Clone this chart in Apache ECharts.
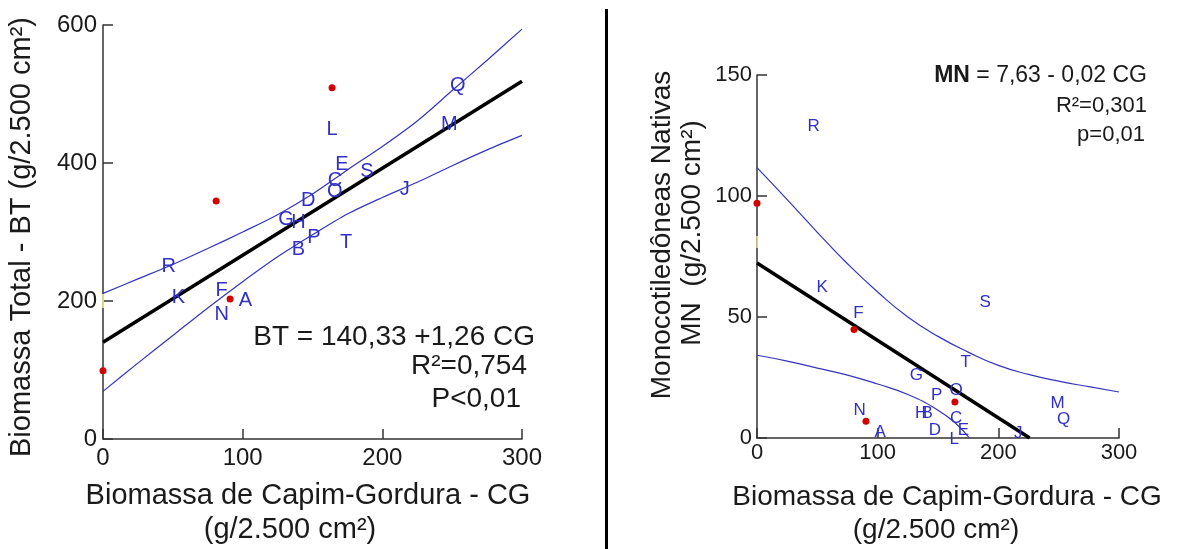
<!DOCTYPE html>
<html>
<head>
<meta charset="utf-8">
<script src="https://cdn.jsdelivr.net/npm/echarts@6/dist/echarts.min.js"></script>
<style>html,body{margin:0;padding:0;background:#fff}#c{width:1192px;height:549px}</style>
</head>
<body>
<div id="c"></div>
<script>
// ---- Left panel: Biomassa Total (BT) vs Capim-Gordura (CG)
var letters = ['A','B','C','D','E','F','G','H','I','J','K','L','M','N','O','P','Q','R','S','T'];
var leftX = [102, 140, 166, 147, 171, 85, 131, 140, 0, 216, 54, 164, 248, 85, 166, 151, 254, 47, 189, 174];
var leftY = [201, 274, 374, 345, 398, 215, 318, 314, 198, 362, 205, 448, 456, 181, 358, 292, 513, 250, 388, 285];
var leftRedX = [164, 81, 91, 0];
var leftRedY = [509, 345, 203, 99];
var leftFitX = [0, 300];
var leftFitY = [140.33, 518.33];
var leftBandX = [0, 25, 50, 75, 100, 125, 150, 175, 200, 225, 250, 275, 300];
var leftUpper = [211, 232, 253, 276, 300, 325, 355, 390, 424, 461, 505, 549, 594];
var leftLower = [69, 110, 150, 190, 228, 264, 296, 326, 350, 372, 396, 419, 440];
var leftXTicks = [0, 100, 200, 300];
var leftYTicks = [0, 200, 400, 600];

// ---- Right panel: Monocotiledôneas Nativas (MN) vs CG
var rightX = [102, 141, 165, 147.5, 171, 84, 132, 136, 0, 216.5, 54, 163.5, 249, 85, 165, 149, 254, 47, 189, 173];
var rightY = [2.5, 10.3, 8, 3, 3.2, 51.7, 26, 10, 80.6, 2, 62.4, -0.7, 14.2, 11.4, 19.7, 17.6, 7.6, 129, 56.2, 31.4];
var rightRedX = [0, 80.4, 164, 90.3];
var rightRedY = [97, 44.8, 14.9, 6.9];
var rightFitX = [0, 226];
var rightFitY = [72.3, 0];
var rightUpperX = [0, 25, 50, 75, 100, 125, 150, 175, 200, 225, 250, 275, 300];
var rightUpperY = [111.7, 98.5, 85, 72, 60.3, 50, 42, 35.5, 30, 26.3, 23.5, 21.2, 19];
var rightLowerX = [0, 25, 50, 75, 100, 125, 150, 165, 176];
var rightLowerY = [34.2, 31.8, 28.9, 26, 22.3, 18, 11.5, 5.9, 0];
var rightXTicks = [0, 100, 200, 300];
var rightYTicks = [0, 50, 100, 150];

var BLUE = '#3030c4';
var BAND = '#3434bc';
var RED = '#d40000';
var YEL = '#e4dc86';
var FONT = '"Liberation Sans", Arial, sans-serif';

function zip(xs, ys) { return xs.map(function (x, i) { return [x, ys[i]]; }); }
function letterData(xs, ys) {
  return letters.map(function (n, i) {
    return { name: n, value: [xs[i], ys[i]], label: { color: n === 'I' ? YEL : BLUE } };
  });
}

function axisCommon(ticks, fs, margin) {
  return {
    type: 'value',
    min: ticks[0], max: ticks[ticks.length - 1], interval: ticks[1] - ticks[0],
    splitLine: { show: false },
    axisLine: { show: true, lineStyle: { color: '#333', width: 1.5 } },
    axisTick: { show: true, inside: true, length: 10, lineStyle: { color: '#333', width: 1.5 } },
    axisLabel: { color: '#1a1a1a', fontSize: fs, fontFamily: FONT, margin: margin }
  };
}

var chart = echarts.init(document.getElementById('c'), null, { renderer: 'canvas' });

var xa0 = axisCommon(leftXTicks, 24, 7); xa0.gridIndex = 0;
var ya0 = axisCommon(leftYTicks, 24, 6); ya0.gridIndex = 0;
var xa1 = axisCommon(rightXTicks, 22, 4); xa1.gridIndex = 1;
var ya1 = axisCommon(rightYTicks, 22, 5); ya1.gridIndex = 1;

var option = {
  animation: false,
  backgroundColor: '#fff',
  grid: [
    { left: 103, top: 25, width: 419, height: 414, containLabel: false },
    { left: 757, top: 75, width: 362, height: 363, containLabel: false }
  ],
  xAxis: [xa0, xa1],
  yAxis: [ya0, ya1],
  series: [
    { type: 'line', xAxisIndex: 0, yAxisIndex: 0, data: zip(leftBandX, leftUpper), smooth: 0.3, showSymbol: false, lineStyle: { color: BAND, width: 1.2 } },
    { type: 'line', xAxisIndex: 0, yAxisIndex: 0, data: zip(leftBandX, leftLower), smooth: 0.3, showSymbol: false, lineStyle: { color: BAND, width: 1.2 } },
    { type: 'line', xAxisIndex: 0, yAxisIndex: 0, data: zip(leftFitX, leftFitY), showSymbol: false, lineStyle: { color: '#000', width: 3.5 } },
    { type: 'scatter', xAxisIndex: 0, yAxisIndex: 0, data: zip(leftRedX, leftRedY), symbol: 'circle', symbolSize: 7, itemStyle: { color: RED, opacity: 1 }, clip: false, z: 5 },
    { type: 'scatter', xAxisIndex: 0, yAxisIndex: 0, data: letterData(leftX, leftY), symbolSize: 2, itemStyle: { color: 'rgba(0,0,0,0)', opacity: 1 }, clip: false,
      label: { show: true, position: 'inside', formatter: '{b}', fontSize: 20, fontFamily: FONT }, z: 4 },
    { type: 'line', xAxisIndex: 1, yAxisIndex: 1, data: zip(rightUpperX, rightUpperY), smooth: true, showSymbol: false, lineStyle: { color: BAND, width: 1.2 } },
    { type: 'line', xAxisIndex: 1, yAxisIndex: 1, data: zip(rightLowerX, rightLowerY), smooth: true, showSymbol: false, lineStyle: { color: BAND, width: 1.2 } },
    { type: 'line', xAxisIndex: 1, yAxisIndex: 1, data: zip(rightFitX, rightFitY), showSymbol: false, lineStyle: { color: '#000', width: 3.5 } },
    { type: 'scatter', xAxisIndex: 1, yAxisIndex: 1, data: zip(rightRedX, rightRedY), symbol: 'circle', symbolSize: 7, itemStyle: { color: RED, opacity: 1 }, clip: false, z: 5 },
    { type: 'scatter', xAxisIndex: 1, yAxisIndex: 1, data: letterData(rightX, rightY), symbolSize: 2, itemStyle: { color: 'rgba(0,0,0,0)', opacity: 1 }, clip: false,
      label: { show: true, position: 'inside', formatter: '{b}', fontSize: 17, fontFamily: FONT }, z: 4 }
  ],
  graphic: [
    { type: 'rect', shape: { x: 605, y: 9, width: 3, height: 540 }, style: { fill: '#000' } },
    { type: 'text', x: 22, y: 237, rotation: Math.PI / 2, style: { text: 'Biomassa Total - BT (g/2.500 cm²)', font: '29px ' + FONT, fill: '#1a1a1a', align: 'center', verticalAlign: 'middle' } },
    { type: 'text', x: 308, y: 496, style: { text: 'Biomassa de Capim-Gordura - CG', font: '29px ' + FONT, fill: '#1a1a1a', align: 'center', verticalAlign: 'middle' } },
    { type: 'text', x: 290, y: 530, style: { text: '(g/2.500 cm²)', font: '29px ' + FONT, fill: '#1a1a1a', align: 'center', verticalAlign: 'middle' } },
    { type: 'text', x: 535, y: 337, style: { text: 'BT = 140,33 +1,26 CG', font: '28px ' + FONT, fill: '#1a1a1a', align: 'right', verticalAlign: 'middle' } },
    { type: 'text', x: 527, y: 366, style: { text: 'R²=0,754', font: '28px ' + FONT, fill: '#1a1a1a', align: 'right', verticalAlign: 'middle' } },
    { type: 'text', x: 521, y: 399, style: { text: 'P<0,01', font: '28px ' + FONT, fill: '#1a1a1a', align: 'right', verticalAlign: 'middle' } },
    { type: 'text', x: 662, y: 235, rotation: Math.PI / 2, style: { text: 'Monocotiledôneas Nativas', font: '28px ' + FONT, fill: '#1a1a1a', align: 'center', verticalAlign: 'middle' } },
    { type: 'text', x: 692, y: 233, rotation: Math.PI / 2, style: { text: 'MN  (g/2.500 cm²)', font: '28px ' + FONT, fill: '#1a1a1a', align: 'center', verticalAlign: 'middle' } },
    { type: 'text', x: 947, y: 497, style: { text: 'Biomassa de Capim-Gordura - CG', font: '28px ' + FONT, fill: '#1a1a1a', align: 'center', verticalAlign: 'middle' } },
    { type: 'text', x: 936, y: 530, style: { text: '(g/2.500 cm²)', font: '28px ' + FONT, fill: '#1a1a1a', align: 'center', verticalAlign: 'middle' } },
    { type: 'text', x: 1147, y: 76, style: { text: '{b|MN} = 7,63 - 0,02 CG', rich: { b: { fontWeight: 'bold', fontSize: 23, fontFamily: FONT, fill: '#1a1a1a' } }, font: '23px ' + FONT, fill: '#1a1a1a', align: 'right', verticalAlign: 'middle' } },
    { type: 'text', x: 1147, y: 106, style: { text: 'R²=0,301', font: '22px ' + FONT, fill: '#1a1a1a', align: 'right', verticalAlign: 'middle' } },
    { type: 'text', x: 1145, y: 135, style: { text: 'p=0,01', font: '22px ' + FONT, fill: '#1a1a1a', align: 'right', verticalAlign: 'middle' } }
  ]
};
chart.setOption(option);
</script>
</body>
</html>
